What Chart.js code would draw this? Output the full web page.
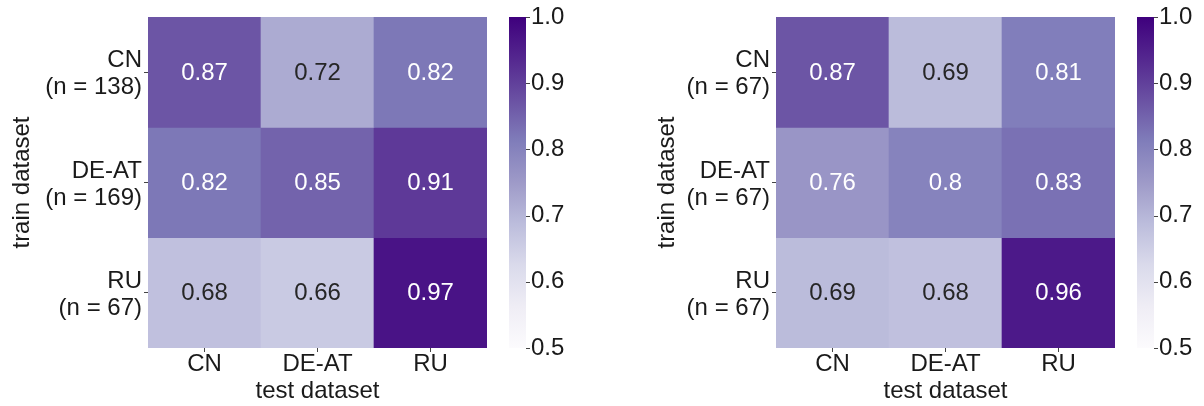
<!DOCTYPE html>
<html>
<head>
<meta charset="utf-8">
<script src="https://cdn.jsdelivr.net/npm/chart.js@4/dist/chart.umd.min.js"></script>
<style>
  html, body { margin: 0; padding: 0; background: #ffffff; }
  #wrap { position: relative; width: 1204px; height: 406px; overflow: hidden; }
  .panel { position: absolute; top: 0; width: 602px; height: 406px; }
</style>
</head>
<body>
<div id="wrap">
  <div class="panel" style="left:0"><canvas id="heatLeft" width="602" height="406"></canvas></div>
  <div class="panel" style="left:602px"><canvas id="heatRight" width="602" height="406"></canvas></div>
</div>
<script>
// Test datasets (columns) and training datasets (rows, with sample counts)
const testSets = ['CN', 'DE-AT', 'RU'];
const trainSetsLeft = [['CN', '(n = 138)'], ['DE-AT', '(n = 169)'], ['RU', '(n = 67)']];
const trainSetsRight = [['CN', '(n = 67)'], ['DE-AT', '(n = 67)'], ['RU', '(n = 67)']];

// Scores: rows = train dataset, columns = test dataset
const scoresLeft = [
  [0.87, 0.72, 0.82],
  [0.82, 0.85, 0.91],
  [0.68, 0.66, 0.97]
];
const scoresRight = [
  [0.87, 0.69, 0.81],
  [0.76, 0.80, 0.83],
  [0.69, 0.68, 0.96]
];

// Colour scale range and colorbar ticks
const colorbarTicks = [0.5, 0.6, 0.7, 0.8, 0.9, 1.0];
const vmin = 0.5, vmax = 1.0;

// Sequential "Purples" palette anchors
const PURPLES = ['#fcfbfd', '#efedf5', '#dadaeb', '#bcbddc', '#9e9ac8', '#807dba', '#6a51a3', '#54278f', '#3f007d'];
const FONT = '"Liberation Sans", Arial, Helvetica, sans-serif';
const TEXT = '#1a1a1a';
const FONT_SIZE = 24;

function hexToRgb(h) {
  const n = parseInt(h.slice(1), 16);
  return [(n >> 16) & 255, (n >> 8) & 255, n & 255];
}
const PURPLES_RGB = PURPLES.map(hexToRgb);

function purplesRgb(t) {
  t = Math.max(0, Math.min(1, t));
  const x = t * (PURPLES_RGB.length - 1);
  const i = Math.min(PURPLES_RGB.length - 2, Math.floor(x));
  const f = x - i;
  const a = PURPLES_RGB[i], b = PURPLES_RGB[i + 1];
  return a.map((c, k) => Math.round(c + (b[k] - c) * f));
}
function cellRgb(v) { return purplesRgb((v - vmin) / (vmax - vmin)); }
function cellColor(v) { const c = cellRgb(v); return `rgb(${c[0]},${c[1]},${c[2]})`; }

// Light cells get dark text, dark cells get white text
function annotColor(v) {
  const lin = cellRgb(v).map(c => {
    c /= 255;
    return c <= 0.03928 ? c / 12.92 : Math.pow((c + 0.055) / 1.055, 2.4);
  });
  const lum = 0.2126 * lin[0] + 0.7152 * lin[1] + 0.0722 * lin[2];
  return lum > 0.408 ? '#262626' : '#ffffff';
}
function fmt(v) { return String(Number(v.toPrecision(2))); }

// Writes the score into the middle of every cell
const annotations = {
  id: 'annotations',
  afterDatasetsDraw(chart) {
    const ctx = chart.ctx;
    ctx.save();
    ctx.font = `${FONT_SIZE}px ${FONT}`;
    ctx.textAlign = 'center';
    ctx.textBaseline = 'middle';
    chart.data.datasets.forEach((ds, i) => {
      chart.getDatasetMeta(i).data.forEach((bar, j) => {
        const v = ds.scores[j];
        ctx.fillStyle = annotColor(v);
        ctx.fillText(fmt(v), bar.x, (bar.y + bar.base) / 2 + 1);
      });
    });
    ctx.restore();
  }
};

// Draws the gradient colour bar alongside the 'cb' scale
const colorbar = {
  id: 'colorbar',
  afterDraw(chart) {
    const s = chart.scales.cb;
    const ctx = chart.ctx;
    const x0 = s.left + 22, w = 17;
    const yTop = s.getPixelForValue(vmax), yBot = s.getPixelForValue(vmin);
    const g = ctx.createLinearGradient(0, yBot, 0, yTop);
    PURPLES.forEach((c, k) => g.addColorStop(k / (PURPLES.length - 1), c));
    ctx.save();
    ctx.fillStyle = g;
    ctx.fillRect(x0, yTop, w, yBot - yTop);
    ctx.strokeStyle = '#444';
    ctx.lineWidth = 1;
    s.ticks.forEach(t => {
      const y = Math.round(s.getPixelForValue(t.value)) + 0.5;
      ctx.beginPath();
      ctx.moveTo(x0 + w, y);
      ctx.lineTo(x0 + w + 4, y);
      ctx.stroke();
    });
    ctx.restore();
  }
};

// Keeps label overflow from shrinking the plotting area
function noOverflow(s) {
  s.paddingTop = 0; s.paddingBottom = 0; s.paddingLeft = 0; s.paddingRight = 0;
}

function buildHeatmap(canvasId, trainLabels, scores, yAxisWidth, yTitlePad) {
  const datasets = trainLabels.map((_, i) => ({
    data: testSets.map(() => [i, i + 1]),
    scores: scores[i],
    backgroundColor: scores[i].map(cellColor),
    borderWidth: 0,
    grouped: false,
    barPercentage: 1,
    categoryPercentage: 1
  }));
  const tickFont = { family: FONT, size: FONT_SIZE, lineHeight: 1.13 };
  const chartRight = yAxisWidth + 339;

  return new Chart(document.getElementById(canvasId), {
    type: 'bar',
    data: { labels: testSets, datasets },
    plugins: [annotations, colorbar],
    options: {
      responsive: false,
      animation: false,
      layout: { padding: { top: 17, left: 0, right: 0, bottom: 0 } },
      plugins: { legend: { display: false }, tooltip: { enabled: false } },
      scales: {
        x: {
          type: 'category',
          grid: { display: true, drawOnChartArea: false, offset: false, tickLength: 4, color: '#444' },
          border: { display: false },
          ticks: { font: tickFont, color: TEXT, padding: -1 },
          title: { display: true, text: 'test dataset', font: tickFont, color: TEXT, padding: { top: 0, bottom: 1 } },
          afterFit: s => { s.height = 58; noOverflow(s); }
        },
        y: {
          type: 'linear',
          min: 0,
          max: 3,
          reverse: true,
          afterBuildTicks: s => { s.ticks = [0.5, 1.5, 2.5].map(value => ({ value })); },
          grid: { display: true, drawOnChartArea: false, tickLength: 4, color: '#444' },
          border: { display: false },
          ticks: { font: tickFont, color: TEXT, padding: 2, labelOffset: 2, callback: v => trainLabels[Math.floor(v)] },
          title: { display: true, text: 'train dataset', font: tickFont, color: TEXT, padding: { top: yTitlePad, bottom: 0 } },
          afterFit: s => { s.width = yAxisWidth; noOverflow(s); }
        },
        cb: {
          type: 'linear',
          position: 'right',
          min: vmin,
          max: vmax,
          afterBuildTicks: s => { s.ticks = colorbarTicks.map(value => ({ value })); },
          grid: { display: false, drawTicks: false },
          border: { display: false },
          ticks: { font: tickFont, color: TEXT, padding: 44, callback: v => v.toFixed(1) },
          afterFit: s => { s.width = 602 - chartRight; noOverflow(s); }
        }
      }
    }
  });
}

buildHeatmap('heatLeft', trainSetsLeft, scoresLeft, 148, 9);
buildHeatmap('heatRight', trainSetsRight, scoresRight, 174, 52);
</script>
</body>
</html>
